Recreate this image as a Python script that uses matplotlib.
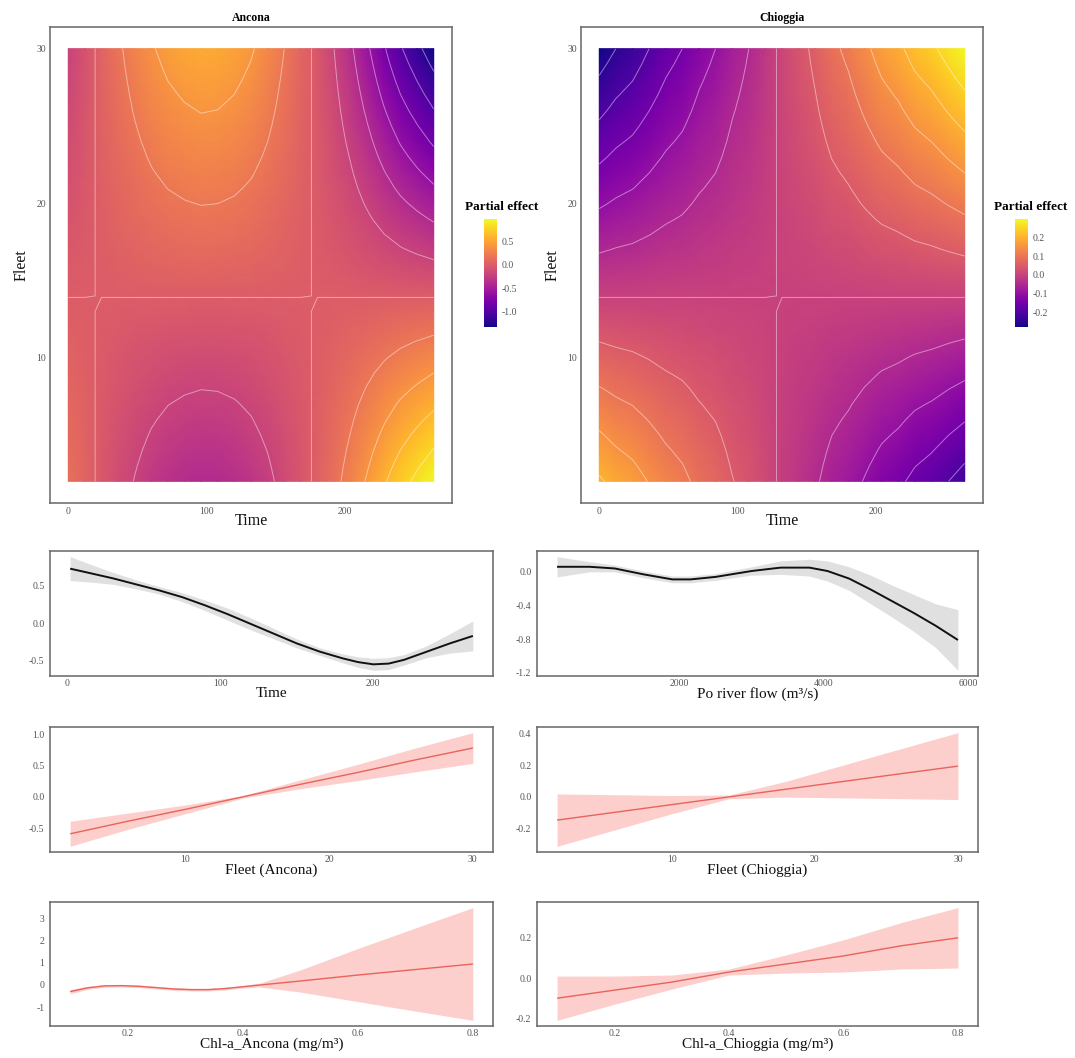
import numpy as np
import matplotlib
matplotlib.use("Agg")
import matplotlib.pyplot as plt

plt.rcParams['font.family'] = ['Liberation Serif', 'DejaVu Serif']
plt.rcParams['axes.unicode_minus'] = False

# ---------------- data ----------------
# Heatmap grid (Time x Fleet)
hm_time = [0, 12, 24, 36, 48, 60, 72, 84, 96, 108, 120, 132, 144, 156, 168,
           180, 192, 204, 216, 228, 240, 252, 264]
hm_fleet = [2, 3, 4, 5, 6, 7, 8, 9, 10, 11, 12, 13, 14, 15, 16, 17, 18, 19,
            20, 21, 22, 23, 24, 25, 26, 27, 28, 29, 30]
# fleet factor (1 at Fleet = 30, 0 near Fleet = 13.9)
fleet_factor = [-0.739, -0.677, -0.615, -0.553, -0.491, -0.429, -0.366,
                -0.304, -0.242, -0.180, -0.118, -0.056, 0.006, 0.068, 0.130,
                0.193, 0.255, 0.317, 0.379, 0.441, 0.503, 0.565, 0.627,
                0.689, 0.752, 0.814, 0.876, 0.938, 1.000]
# time profile at Fleet = 30
ancona_time_profile = [-0.20, -0.08, 0.05, 0.17, 0.28, 0.38, 0.46, 0.51, 0.54,
                       0.53, 0.49, 0.42, 0.32, 0.20, 0.07, -0.04, -0.20, -0.37,
                       -0.57, -0.78, -0.98, -1.15, -1.32]
chioggia_time_profile = [-0.28, -0.25, -0.23, -0.20, -0.17, -0.15, -0.12, -0.10,
                         -0.07, -0.05, -0.02, 0.01, 0.035, 0.06, 0.09, 0.11,
                         0.14, 0.17, 0.19, 0.22, 0.24, 0.27, 0.30]
ancona_levels = [-1.2, -1.0, -0.8, -0.6, -0.4, -0.2, 0.0, 0.2, 0.4, 0.6, 0.8]
chioggia_levels = [-0.25, -0.2, -0.15, -0.1, -0.05, 0.0, 0.05, 0.1, 0.15,
                   0.2, 0.25, 0.3]

# Smooth of Time
time_x = [2, 15, 30, 45, 60, 75, 90, 105, 120, 135, 150, 165, 180, 190, 200,
          210, 220, 235, 250, 265]
time_fit = [0.73, 0.67, 0.60, 0.52, 0.44, 0.35, 0.24, 0.12, -0.01, -0.14,
            -0.27, -0.38, -0.47, -0.52, -0.55, -0.54, -0.49, -0.38, -0.27, -0.17]
time_se = [0.16, 0.12, 0.08, 0.06, 0.05, 0.06, 0.07, 0.08, 0.08, 0.07, 0.06,
           0.05, 0.06, 0.07, 0.08, 0.08, 0.07, 0.08, 0.13, 0.20]

# Smooth of Po river flow
flow_x = [300, 750, 1100, 1500, 1900, 2150, 2500, 3000, 3400, 3800, 4050,
          4350, 4650, 4950, 5250, 5550, 5860]
flow_fit = [0.06, 0.06, 0.04, -0.03, -0.09, -0.09, -0.06, 0.01, 0.05, 0.05,
            0.01, -0.08, -0.21, -0.35, -0.49, -0.64, -0.81]
flow_se = [0.12, 0.06, 0.04, 0.04, 0.04, 0.04, 0.04, 0.05, 0.08, 0.10, 0.12,
           0.14, 0.17, 0.19, 0.22, 0.26, 0.36]

# Fleet (linear terms)
fleet_x = [2, 6, 10, 14, 18, 22, 26, 30]
fleetA_fit = [-0.59, -0.39, -0.20, 0.00, 0.20, 0.39, 0.59, 0.78]
fleetA_se = [0.20, 0.13, 0.07, 0.02, 0.07, 0.13, 0.19, 0.245]
fleetC_fit = [-0.147, -0.098, -0.049, 0.000, 0.049, 0.098, 0.147, 0.195]
fleetC_se = [0.166, 0.112, 0.058, 0.012, 0.050, 0.104, 0.158, 0.212]

# Chl-a
chlA_x = [0.10, 0.13, 0.16, 0.19, 0.22, 0.25, 0.28, 0.31, 0.34, 0.37, 0.40,
          0.43, 0.50, 0.60, 0.70, 0.80]
chlA_fit = [-0.30, -0.13, -0.04, -0.03, -0.06, -0.12, -0.18, -0.21, -0.21,
            -0.16, -0.08, 0.00, 0.18, 0.45, 0.70, 0.95]
chlA_se = [0.10, 0.07, 0.06, 0.06, 0.06, 0.06, 0.06, 0.06, 0.06, 0.06, 0.06,
           0.09, 0.50, 1.20, 1.88, 2.55]
chlC_x = [0.10, 0.20, 0.30, 0.40, 0.50, 0.60, 0.70, 0.80]
chlC_fit = [-0.10, -0.06, -0.02, 0.03, 0.07, 0.11, 0.16, 0.20]
chlC_se = [0.11, 0.07, 0.035, 0.015, 0.045, 0.08, 0.115, 0.15]

# ---------------- figure ----------------
W, H = 1075, 1058
fig = plt.figure(figsize=(W / 100, H / 100), dpi=100)


def ax_px(x0, y0, x1, y1):
    return fig.add_axes([x0 / W, 1 - y1 / H, (x1 - x0) / W, (y1 - y0) / H])


TICK_C = '#555555'


def style(ax, pad=3):
    for s in ax.spines.values():
        s.set_edgecolor('#666666')
        s.set_linewidth(1.1)
    ax.tick_params(length=0, labelsize=7, labelcolor=TICK_C, pad=pad)


def fmt(vals, nd):
    return [f"{v:.{nd}f}" for v in vals]


def expand(lo, hi, f=0.05):
    r = hi - lo
    return lo - f * r, hi + f * r


def heatmap(box, cbox, title_x, prof, levels, title, cticks):
    ax = ax_px(*box)
    style(ax)
    T = np.array(hm_time, float)
    F = np.array(hm_fleet, float)
    Z = np.outer(np.array(fleet_factor), np.array(prof))
    vmin, vmax = Z.min(), Z.max()
    m = ax.pcolormesh(T, F, Z, shading='gouraud', cmap='plasma',
                      vmin=vmin, vmax=vmax)
    ax.contour(T, F, Z, levels=levels, colors='white', linewidths=0.7,
               alpha=0.45, linestyles='solid')
    ax.set_xlim(*expand(T.min(), T.max()))
    ax.set_ylim(*expand(F.min(), F.max()))
    ax.set_xticks([0, 100, 200])
    ax.set_xticklabels(['0', '100', '200'])
    ax.set_yticks([10, 20, 30])
    ax.set_yticklabels(['10', '20', '30'])
    ax.set_xlabel('Time', fontsize=11.5, labelpad=-2, color='#111111')
    ax.set_ylabel('Fleet', fontsize=11.5, labelpad=5, color='#111111')
    ax.set_title(title, fontsize=8.5, fontweight='bold', pad=4)
    cax = ax_px(*cbox)
    cb = fig.colorbar(m, cax=cax)
    cb.outline.set_visible(False)
    cb.set_ticks(cticks)
    cb.set_ticklabels(fmt(cticks, 1))
    cb.ax.tick_params(length=0, labelsize=7, labelcolor=TICK_C, pad=3)
    fig.text(title_x / W, 1 - 207 / H, 'Partial effect', fontsize=9.5,
             fontweight='bold', ha='left', va='center')
    return ax


heatmap((50, 27, 452, 503), (484, 219, 497, 327), 465, ancona_time_profile,
        ancona_levels, 'Ancona', [-1.0, -0.5, 0.0, 0.5])
heatmap((581, 27, 983, 503), (1015, 219, 1028, 327), 994, chioggia_time_profile,
        chioggia_levels, 'Chioggia', [-0.2, -0.1, 0.0, 0.1, 0.2])


def smooth_panel(box, x, fit, se, line_c, fill_c, fill_a, lw, xticks, xtl,
                 yticks, ynd, xlabel):
    ax = ax_px(*box)
    style(ax, pad=2)
    x = np.array(x, float)
    fit = np.array(fit, float)
    se = np.array(se, float)
    lo, hi = fit - se, fit + se
    ax.fill_between(x, lo, hi, color=fill_c, alpha=fill_a, lw=0)
    ax.plot(x, fit, color=line_c, lw=lw, solid_capstyle='butt')
    ax.set_xlim(*expand(x.min(), x.max()))
    ax.set_ylim(*expand(lo.min(), hi.max()))
    ax.set_xticks(xticks)
    ax.set_xticklabels(xtl)
    ax.set_yticks(yticks)
    ax.set_yticklabels(fmt(yticks, ynd))
    ax.tick_params(axis='y', pad=4)
    ax.set_xlabel(xlabel, fontsize=11, labelpad=-0.5, color='#111111')
    return ax


GRAY_F = '#d9d9d9'
PINK_L = '#e8635b'
PINK_F = '#f8766d'

rows = [(551, 676), (727, 852), (902, 1026)]
LX = (50, 493)
RX = (537, 978)

smooth_panel((LX[0], rows[0][0], LX[1], rows[0][1]), time_x, time_fit, time_se,
             '#111111', GRAY_F, 0.8, 1.4, [0, 100, 200], ['0', '100', '200'],
             [-0.5, 0.0, 0.5], 1, 'Time')
smooth_panel((RX[0], rows[0][0], RX[1], rows[0][1]), flow_x, flow_fit, flow_se,
             '#111111', GRAY_F, 0.8, 1.4, [2000, 4000, 6000],
             ['2000', '4000', '6000'], [-1.2, -0.8, -0.4, 0.0], 1,
             'Po river flow (m³/s)')
smooth_panel((LX[0], rows[1][0], LX[1], rows[1][1]), fleet_x, fleetA_fit,
             fleetA_se, PINK_L, PINK_F, 0.35, 1.0, [10, 20, 30],
             ['10', '20', '30'], [-0.5, 0.0, 0.5, 1.0], 1, 'Fleet (Ancona)')
smooth_panel((RX[0], rows[1][0], RX[1], rows[1][1]), fleet_x, fleetC_fit,
             fleetC_se, PINK_L, PINK_F, 0.35, 1.0, [10, 20, 30],
             ['10', '20', '30'], [-0.2, 0.0, 0.2, 0.4], 1, 'Fleet (Chioggia)')
smooth_panel((LX[0], rows[2][0], LX[1], rows[2][1]), chlA_x, chlA_fit, chlA_se,
             PINK_L, PINK_F, 0.35, 1.0, [0.2, 0.4, 0.6, 0.8],
             ['0.2', '0.4', '0.6', '0.8'], [-1, 0, 1, 2, 3], 0,
             'Chl-a_Ancona (mg/m³)')
smooth_panel((RX[0], rows[2][0], RX[1], rows[2][1]), chlC_x, chlC_fit, chlC_se,
             PINK_L, PINK_F, 0.35, 1.0, [0.2, 0.4, 0.6, 0.8],
             ['0.2', '0.4', '0.6', '0.8'], [-0.2, 0.0, 0.2], 1,
             'Chl-a_Chioggia (mg/m³)')

fig.savefig('out.png', dpi=100, facecolor='white')
